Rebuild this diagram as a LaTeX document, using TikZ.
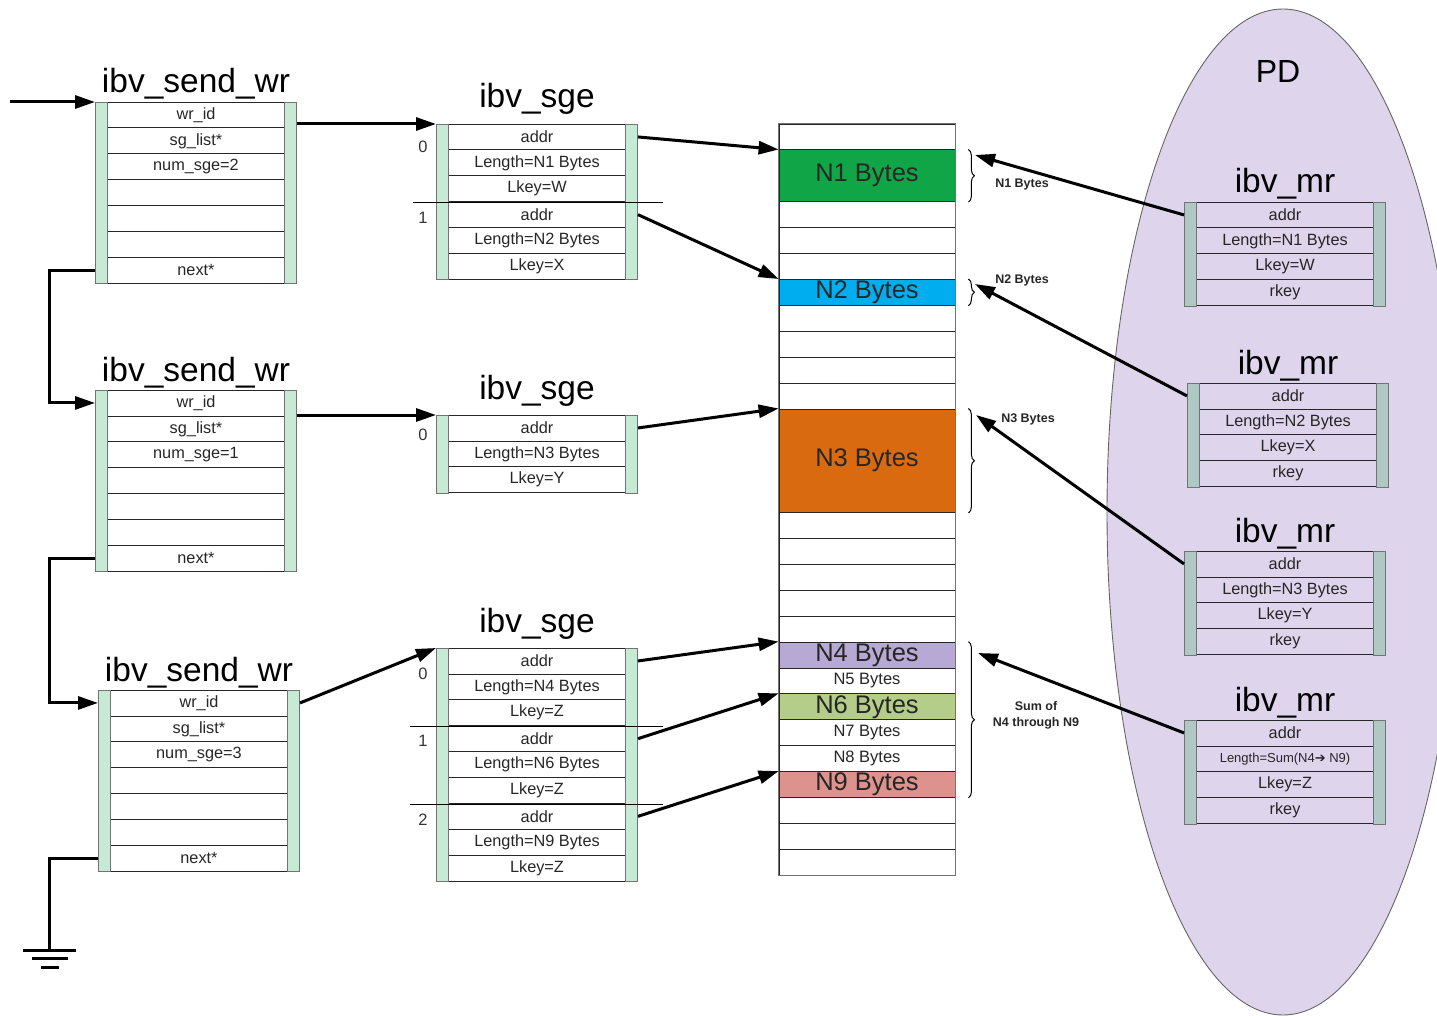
\documentclass[tikz,border=0pt]{standalone}
\usepackage{fontspec}
\setmainfont{Liberation Sans}
\newfontfamily\symfont{DejaVu Sans}
\usetikzlibrary{arrows.meta,positioning,decorations.pathreplacing}

\definecolor{barmint}{RGB}{198,234,212}
\definecolor{barmr}{RGB}{176,200,196}
\definecolor{pdfill}{RGB}{222,212,236}
\definecolor{nagreen}{RGB}{16,166,72}
\definecolor{nbblue}{RGB}{0,174,239}
\definecolor{ncorange}{RGB}{218,106,16}
\definecolor{ndpurple}{RGB}{182,170,212}
\definecolor{neolive}{RGB}{180,206,138}
\definecolor{nfpink}{RGB}{222,146,142}

\def\rowh{25.9}

\tikzset{
  fieldrow/.style={draw=black!85, line width=0.8pt, minimum width=178, minimum height=\rowh,
    inner sep=0pt, text=black!85, font=\fontsize{16.3}{18}\selectfont},
  sgebar/.style={draw=black!55, line width=0.8pt, fill=barmint, minimum width=12, inner sep=0pt},
  mrbar/.style={sgebar, fill=barmr},
  rectitle/.style={anchor=base, inner sep=0pt, font=\fontsize{33.5}{36}\selectfont},
  memrow/.style={draw=black!85, line width=0.8pt, minimum width=176, minimum height=\rowh,
    inner sep=0pt, text=black!85, font=\fontsize{16.5}{18}\selectfont},
  bigmem/.style={memrow, font=\fontsize{25.5}{28}\selectfont},
  ptr/.style={line width=3pt, -{Triangle[length=20pt,width=13pt]}},
  chain/.style={line width=3pt},
  sepline/.style={line width=0.9pt},
  brc/.style={decorate, decoration={brace, amplitude=6pt}, line width=1pt},
  bnote/.style={font=\bfseries\fontsize{12.5}{16}\selectfont, text=black!85, inner sep=0pt},
  idx/.style={font=\fontsize{16.5}{18}\selectfont, text=black!80, inner sep=0pt}
}

% record: name, left x, top y, rows, bar style, fields
\newcommand{\recbox}[6]{%
  \foreach \fld [count=\k] in {#6}
    \node[fieldrow] (#1-\k) at ({#2+101},{#3+(\k-0.5)*\rowh}) {\fld};
  \node[#5, minimum height={#4*\rowh}, anchor=north west] (#1l) at (#2,#3) {};
  \node[#5, minimum height={#4*\rowh}, anchor=north east] (#1r) at ({#2+202},#3) {};
}

\begin{document}
\begin{tikzpicture}[x=1pt,y=-1pt]
  \useasboundingbox (0,0) rectangle (1437,1016);

  % protection domain
  \draw[fill=pdfill, draw=black!60, line width=0.9pt] (1283,512) ellipse [x radius=176, y radius=503];
  \node[anchor=base, font=\fontsize{32}{34}\selectfont] (pd) at (1278,83) {PD};

  % work requests
  \node[rectitle] (wr1t) at (196,93) {ibv\_send\_wr};
  \recbox{wr1}{95}{102}{7}{sgebar}{wr\_id,sg\_list*,num\_sge=2,{},{},{},next*}
  \node[rectitle] (wr2t) at (196,381) {ibv\_send\_wr};
  \recbox{wr2}{95}{390}{7}{sgebar}{wr\_id,sg\_list*,num\_sge=1,{},{},{},next*}
  \node[rectitle] (wr3t) at (199,681) {ibv\_send\_wr};
  \recbox{wr3}{98}{690}{7}{sgebar}{wr\_id,sg\_list*,num\_sge=3,{},{},{},next*}

  % scatter/gather lists
  \node[rectitle] (sge1t) at (537,108) {ibv\_sge};
  \recbox{sge1}{436}{124}{6}{sgebar}{addr,Length=N1 Bytes,Lkey=W,addr,Length=N2 Bytes,Lkey=X}
  \node[rectitle] (sge2t) at (537,399) {ibv\_sge};
  \recbox{sge2}{436}{415}{3}{sgebar}{addr,Length=N3 Bytes,Lkey=Y}
  \node[rectitle] (sge3t) at (537,632) {ibv\_sge};
  \recbox{sge3}{436}{648}{9}{sgebar}{addr,Length=N4 Bytes,Lkey=Z,addr,Length=N6 Bytes,Lkey=Z,addr,Length=N9 Bytes,Lkey=Z}

  \draw[sepline] (413,202) -- (663,202);
  \draw[sepline] (410,726) -- (663,726);
  \draw[sepline] (410,804) -- (663,804);
  \node[idx] (i10) at (423,147) {0};
  \node[idx] (i11) at (423,218) {1};
  \node[idx] (i20) at (423,435) {0};
  \node[idx] (i30) at (423,674) {0};
  \node[idx] (i31) at (423,741) {1};
  \node[idx] (i32) at (423,820) {2};

  % memory
  \foreach \i in {1,...,29}
    \node[memrow] (m\i) at (867,{124+(\i-0.5)*\rowh}) {};
  \node[bigmem, fill=nagreen, minimum height=2*\rowh] (n1) at (867,{124+2*\rowh}) {N1 Bytes};
  \node[bigmem, fill=nbblue] (n2) at (867,{124+6.5*\rowh}) {N2 Bytes};
  \node[bigmem, fill=ncorange, minimum height=4*\rowh] (n3) at (867,{124+13*\rowh}) {N3 Bytes};
  \node[bigmem, fill=ndpurple] (n4) at (867,{124+20.5*\rowh}) {N4 Bytes};
  \node[memrow] (n5) at (867,{124+21.5*\rowh}) {N5 Bytes};
  \node[bigmem, fill=neolive] (n6) at (867,{124+22.5*\rowh}) {N6 Bytes};
  \node[memrow] (n7) at (867,{124+23.5*\rowh}) {N7 Bytes};
  \node[memrow] (n8) at (867,{124+24.5*\rowh}) {N8 Bytes};
  \node[bigmem, fill=nfpink] (n9) at (867,{124+25.5*\rowh}) {N9 Bytes};
  \draw[draw=black!55, line width=0.9pt] (m1.north west) rectangle (m29.south east);

  % braces
  \draw[brc] ([xshift=13pt]n1.north east) -- ([xshift=13pt]n1.south east);
  \draw[brc] ([xshift=13pt]n2.north east) -- ([xshift=13pt]n2.south east);
  \draw[brc] ([xshift=13pt]n3.north east) -- ([xshift=13pt]n3.south east);
  \draw[brc] ([xshift=13pt]n4.north east) -- ([xshift=13pt]n9.south east);
  \node[bnote] (l1) at (1022,184) {N1 Bytes};
  \node[bnote] (l2) at (1022,280) {N2 Bytes};
  \node[bnote] (l3) at (1028,419) {N3 Bytes};
  \node[bnote, align=center] (l4) at (1036,715) {Sum of\\N4 through N9};
  \coordinate (b1) at (975,155);
  \coordinate (b2) at (975,284);
  \coordinate (b3) at (976,415);
  \coordinate (b4) at (978,653);

  % memory regions
  \node[rectitle] (mr1t) at (1285,193) {ibv\_mr};
  \recbox{mr1}{1184}{202}{4}{mrbar}{addr,Length=N1 Bytes,Lkey=W,rkey}
  \node[rectitle] (mr2t) at (1288,374) {ibv\_mr};
  \recbox{mr2}{1187}{383}{4}{mrbar}{addr,Length=N2 Bytes,Lkey=X,rkey}
  \node[rectitle] (mr3t) at (1285,542) {ibv\_mr};
  \recbox{mr3}{1184}{551}{4}{mrbar}{addr,Length=N3 Bytes,Lkey=Y,rkey}
  \node[rectitle] (mr4t) at (1285,711) {ibv\_mr};
  \recbox{mr4}{1184}{720}{4}{mrbar}{addr,{\fontsize{13}{14}\selectfont Length=Sum(N4{\symfont ➔} N9)},Lkey=Z,rkey}

  % links
  \coordinate (in) at (10,102);
  \coordinate (gnd) at (49,950);
  \draw[ptr] (in) -- (wr1l.north west);
  \draw[ptr] (wr1l.west |- wr1-7) -- ++(-46,0) |- (wr2l.west |- wr2-1);
  \draw[ptr] (wr2l.west |- wr2-7) -- ++(-46,0) |- (wr3l.west |- wr3-1);
  \draw[chain] (wr3l.west |- wr3-7) -| (gnd);
  \draw[chain] ([xshift=-26pt]gnd) -- ([xshift=27pt]gnd);
  \draw[chain] ([xshift=-17pt,yshift=-8.5pt]gnd) -- ([xshift=19pt,yshift=-8.5pt]gnd);
  \draw[chain] ([xshift=-8pt,yshift=-17pt]gnd) -- ([xshift=10pt,yshift=-17pt]gnd);

  \draw[ptr] (wr1r.east |- sge1l.north) -- (sge1l.north west);
  \draw[ptr] (wr2r.east |- sge2l.north) -- (sge2l.north west);
  \draw[ptr] (wr3r.east |- wr3-1) -- (sge3l.north west);

  \draw[ptr] (sge1r.east |- sge1-1) -- (n1.north west);
  \draw[ptr] (sge1r.east |- sge1-4) -- (n2.north west);
  \draw[ptr] (sge2r.east |- sge2-1) -- (n3.north west);
  \draw[ptr] (sge3r.east |- sge3-1) -- (n4.north west);
  \draw[ptr] (sge3r.east |- sge3-4) -- (n6.north west);
  \draw[ptr] (sge3r.east |- sge3-7) -- (n9.north west);

  \draw[ptr] (mr1l.west |- mr1-1) -- (b1);
  \draw[ptr] (mr2l.west |- mr2-1) -- (b2);
  \draw[ptr] (mr3l.west |- mr3-1) -- (b3);
  \draw[ptr] (mr4l.west |- mr4-1) -- (b4);
\end{tikzpicture}
\end{document}
